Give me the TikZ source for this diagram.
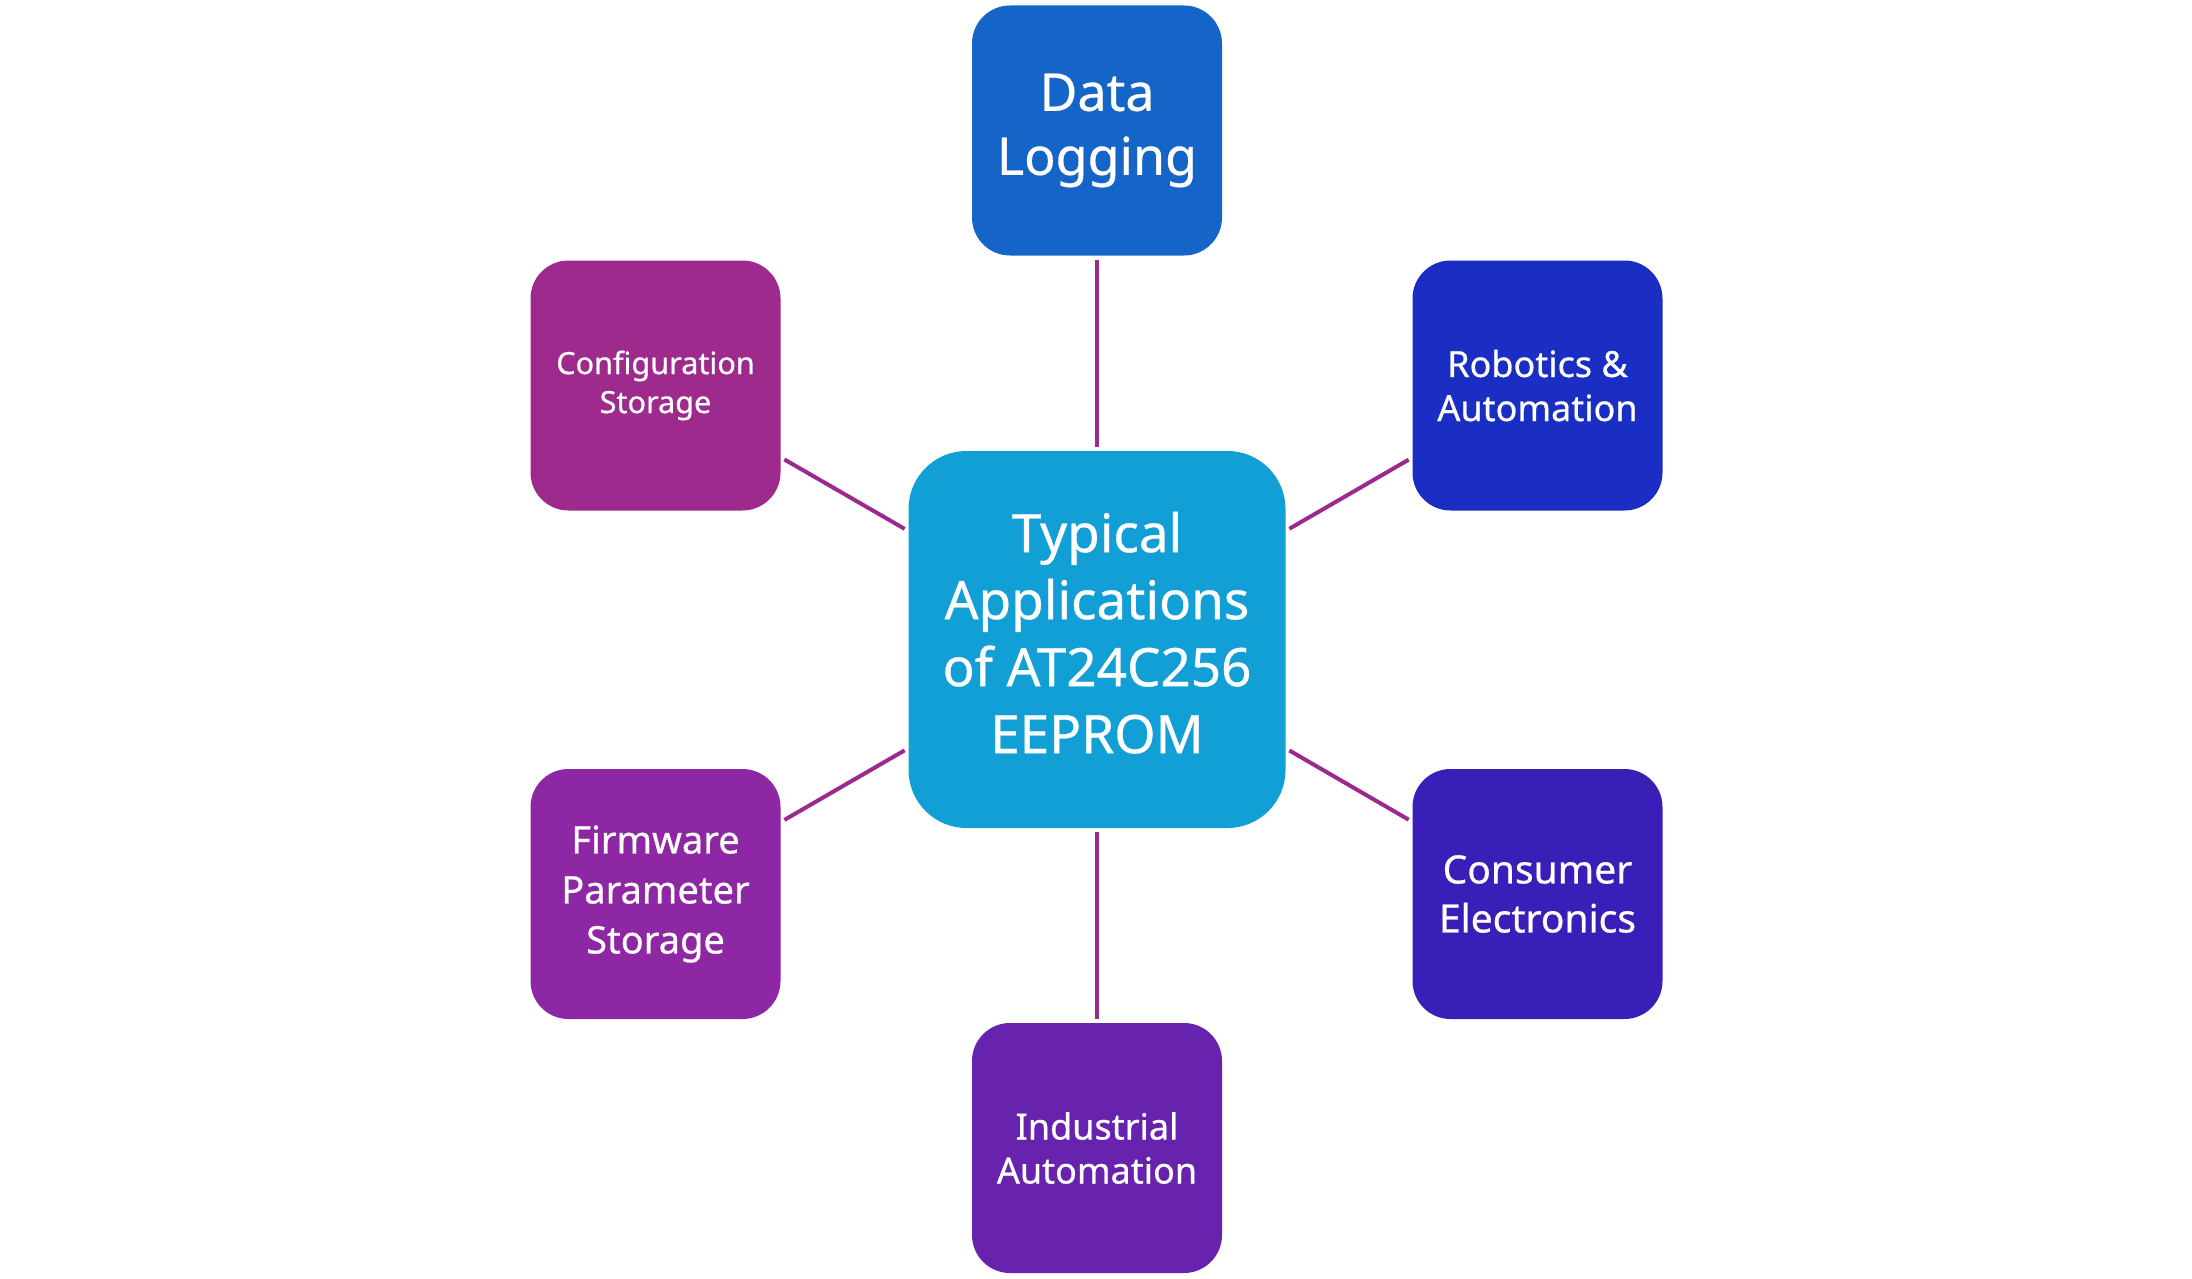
\documentclass[tikz,border=0pt]{standalone}
\usepackage{fontspec}
\setmainfont{Noto Sans}[FakeBold=0.6]
\definecolor{dataC}{HTML}{1565C8}
\definecolor{centerC}{HTML}{119FD6}
\definecolor{confC}{HTML}{9E2A8E}
\definecolor{roboC}{HTML}{1A2EC3}
\definecolor{firmC}{HTML}{8E27A4}
\definecolor{consC}{HTML}{3A1EB8}
\definecolor{indC}{HTML}{6723AD}
\definecolor{lineC}{HTML}{9C2A8E}
\begin{document}
\begin{tikzpicture}[x=0.5pt,y=-0.5pt,
  appbox/.style={rectangle, rounded corners=19pt, minimum width=125pt, minimum height=125pt,
    inner sep=0pt, text=white, align=center},
  hubbox/.style={rectangle, rounded corners=29pt, minimum width=188.5pt, minimum height=188.5pt,
    inner sep=0pt, text=white, align=center, fill=centerC,
    font=\fontsize{26.5pt}{33.5pt}\selectfont},
  link/.style={draw=lineC, line width=2pt, shorten <=2pt, shorten >=2pt}]
\useasboundingbox (0,0) rectangle (2192,1279);
\node[hubbox, text depth=7pt] (hub) at (1097,639.5) {Typical\\Applications\\of AT24C256\\EEPROM};
\node[appbox, fill=dataC, font=\fontsize{26pt}{32pt}\selectfont] (data) at (1097,130.5) {Data\\Logging};
\node[appbox, fill=confC, font=\fontsize{15.3pt}{19.5pt}\selectfont] (conf) at (655.5,385.5) {Configuration\\Storage};
\node[appbox, fill=roboC, font=\fontsize{18pt}{22pt}\selectfont] (robo) at (1537.5,385.5) {Robotics \&\\Automation};
\node[appbox, fill=firmC, font=\fontsize{19pt}{25pt}\selectfont] (firm) at (655.5,894) {Firmware\\Parameter\\Storage};
\node[appbox, fill=consC, font=\fontsize{19.5pt}{24.5pt}\selectfont] (cons) at (1537.5,894) {Consumer\\Electronics};
\node[appbox, fill=indC, font=\fontsize{18pt}{22pt}\selectfont] (ind) at (1097,1148) {Industrial\\Automation};
\draw[link] (hub) -- (data);
\draw[link] (hub) -- (conf);
\draw[link] (hub) -- (robo);
\draw[link] (hub) -- (firm);
\draw[link] (hub) -- (cons);
\draw[link] (hub) -- (ind);
\end{tikzpicture}
\end{document}
